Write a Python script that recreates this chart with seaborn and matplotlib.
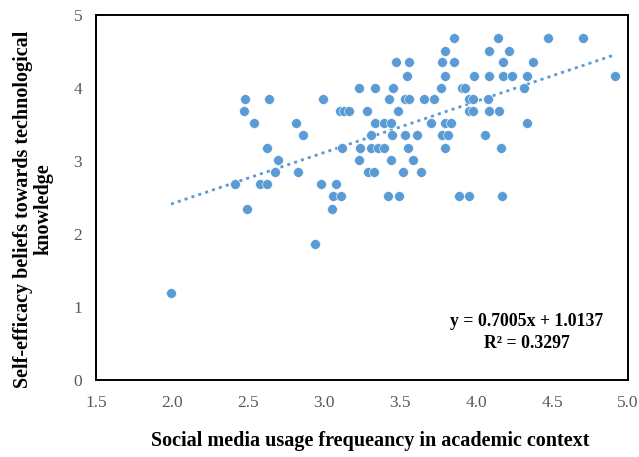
import matplotlib
matplotlib.use("Agg")
import numpy as np
import pandas as pd
import seaborn as sns
import matplotlib.pyplot as plt

# ---- data ----
usage = [
    3.857, 4.143, 4.476, 4.704,
    3.796, 4.088, 4.217,
    3.472, 3.561, 3.778, 3.857, 4.180, 4.375,
    3.543, 3.796, 3.990, 4.086, 4.178, 4.240, 4.334, 4.914,
    3.227, 3.336, 3.452, 3.772, 3.908, 3.928, 4.318,
    2.480, 2.640, 2.995, 3.430, 3.533, 3.559, 3.660, 3.722, 3.954, 3.980, 4.081,
    2.476, 3.102, 3.132, 3.163, 3.286, 3.489, 3.954, 3.980, 4.088, 4.151,
    2.541, 2.814, 3.336, 3.395, 3.441, 3.702, 3.796, 3.836, 4.338,
    2.860, 3.309, 3.445, 3.533, 3.609, 3.776, 3.816, 4.056,
    2.623, 3.116, 3.234, 3.309, 3.352, 3.395, 3.555, 3.796, 4.166,
    2.695, 3.232, 3.441, 3.588,
    2.678, 2.831, 3.289, 3.329, 3.518, 3.635,
    2.414, 2.581, 2.625, 2.977, 3.079,
    3.059, 3.109, 3.423, 3.495, 3.888, 3.954, 4.173,
    2.495, 3.051,
    2.941,
    1.993,
]
self_efficacy = (
    [4.68] * 4 + [4.51] * 3 + [4.35] * 6 + [4.17] * 8 + [4.00] * 7 +
    [3.85] * 11 + [3.69] * 10 + [3.52] * 9 + [3.35] * 8 + [3.18] * 9 +
    [3.02] * 4 + [2.85] * 6 + [2.68] * 5 + [2.52] * 7 + [2.34] * 2 +
    [1.86] * 1 + [1.19] * 1
)
slope = 0.7005
intercept = 1.0137
r_squared = 0.3297
x_ticks = [1.5, 2.0, 2.5, 3.0, 3.5, 4.0, 4.5, 5.0]
y_ticks = [0, 1, 2, 3, 4, 5]

df = pd.DataFrame({"usage": usage, "self_efficacy": self_efficacy})

sns.set_theme(style="white")
plt.rcParams["font.family"] = ["Liberation Serif", "DejaVu Serif"]

BLUE = "#5B9BD5"
W, H = 639, 457
fig = plt.figure(figsize=(W / 100, H / 100), dpi=100)
ax = fig.add_axes([96 / W, 1 - 380 / H, (628 - 96) / W, (380 - 15) / H])

xs = np.array([min(usage), max(usage)])
ax.plot(xs, slope * xs + intercept, color=BLUE, lw=2.0,
        linestyle=(0, (1.1, 1.5)), zorder=2)

sns.scatterplot(data=df, x="usage", y="self_efficacy", ax=ax, color=BLUE,
                s=50, edgecolor="white", linewidth=0.4, zorder=3, legend=False)

ax.set_xlim(1.5, 5.0)
ax.set_ylim(0, 5)
ax.set_xticks(x_ticks)
ax.set_xticklabels([f"{t:.1f}" for t in x_ticks])
ax.set_yticks(y_ticks)
ax.set_yticklabels([str(t) for t in y_ticks])
ax.tick_params(axis="both", direction="in", length=4, width=1.1, color="black",
               labelcolor="#595959", labelsize=12.5)
ax.tick_params(axis="x", pad=10.5)
ax.tick_params(axis="y", pad=10)
for sp in ax.spines.values():
    sp.set_visible(True)
    sp.set_color("black")
    sp.set_linewidth(1.4)
ax.set_xlabel("")
ax.set_ylabel("")

fig.text(370 / W, 1 - 441 / H, "Social media usage frequeancy in academic context",
         ha="center", va="center", fontsize=14.5, fontweight="bold", color="black")
fig.text(33 / W, 1 - 209 / H,
         "Self-efficacy beliefs towards technological\nknowledge",
         ha="center", va="center", rotation=90, fontsize=14.5, fontweight="bold",
         color="black", multialignment="center", linespacing=1.0)

fig.text(527 / W, 1 - 322 / H, f"y = {slope:.4f}x + {intercept:.4f}",
         ha="center", va="center", fontsize=12.8, fontweight="bold", color="black")
fig.text(527 / W, 1 - 344 / H, f"R² = {r_squared:.4f}",
         ha="center", va="center", fontsize=12.8, fontweight="bold", color="black")

fig.savefig("out.png", dpi=100)
